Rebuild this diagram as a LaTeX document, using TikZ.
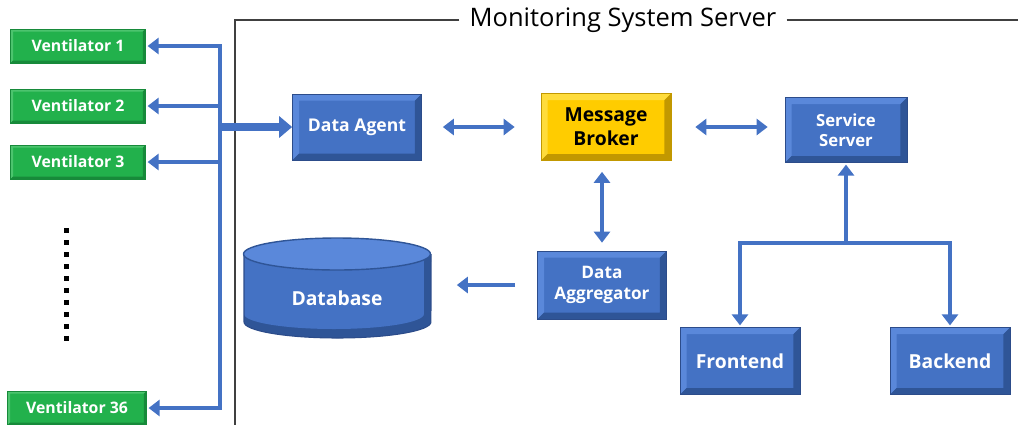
\documentclass[tikz,border=0pt]{standalone}
\usepackage{fontspec}
\setmainfont{Open Sans}
\usetikzlibrary{arrows.meta,positioning,calc}
\definecolor{boxblue}{HTML}{4472C4}
\definecolor{boxdark}{HTML}{2F5597}
\definecolor{boxlight}{HTML}{5A88DA}
\definecolor{boxedge}{HTML}{2C4C8A}
\definecolor{ventgreen}{HTML}{22B14C}
\definecolor{ventdark}{HTML}{178A3A}
\definecolor{ventlight}{HTML}{4CC46E}
\definecolor{brokeryellow}{HTML}{FFCC00}
\definecolor{brokerdark}{HTML}{C29800}
\definecolor{brokerlight}{HTML}{FFDC3C}
\definecolor{arrowblue}{HTML}{4472C4}
\tikzset{
bevel/.style n args={3}{path picture={
\path (path picture bounding box.south west) coordinate (pa)
(path picture bounding box.north east) coordinate (pb);
\fill[#1] (pa) -- ([shift={(#3,#3)}]pa) |- ([shift={(-#3,-#3)}]pb) -- (pb) -| (pa) -- cycle;
\fill[#2] (pa) -- ([shift={(#3,#3)}]pa) -| ([shift={(-#3,-#3)}]pb) -- (pb) |- (pa) -- cycle;
}},
bluebox/.style={rectangle,draw=boxedge,fill=boxblue,text=white,font=\bfseries,align=center,inner sep=0pt,
bevel={boxlight}{boxdark}{0.13cm}},
ventbox/.style={rectangle,draw=ventdark,fill=ventgreen,text=white,font=\bfseries\small,
minimum width=2.7cm,minimum height=0.68cm,inner sep=0pt,bevel={ventlight}{ventdark}{0.05cm}},
brokerbox/.style={rectangle,draw=brokerdark,fill=brokeryellow,text=black,font=\bfseries\fontsize{11}{13.5}\selectfont,align=center,inner sep=0pt,
bevel={brokerlight}{brokerdark}{0.13cm}},
link/.style={draw=arrowblue,line width=2.2pt,->},
twoway/.style={draw=arrowblue,line width=2.2pt,<->},
bus/.style={draw=arrowblue,line width=2.2pt,line cap=rect},
feed/.style={draw=arrowblue,line width=4pt,-{Triangle[length=0.26cm,width=0.42cm]}},
frame/.style={draw=black!75,line width=0.6pt},
dots/.style={line width=0.1cm,dash pattern=on 0.1cm off 0.14cm},
dblabel/.style={text=white,font=\bfseries\fontsize{11}{13}\selectfont,minimum width=3.74cm,inner sep=0pt}
}
\begin{document}
\begin{tikzpicture}[x=0.02cm,y=-0.02cm,>={Triangle[length=0.22cm,width=0.32cm]}]
\useasboundingbox (0,0) rectangle (1018,424);
% server frame
\node[font=\fontsize{14.5}{16}\selectfont,inner sep=0.2cm] (title) at (623,20) {Monitoring System Server};
\draw[frame] (title.west) -- (235,20) -- (235,430);
\draw[frame] (title.east) -- (1030,20);
% ventilators
\node[ventbox] (v1) at (78,46) {Ventilator 1};
\node[ventbox] (v2) at (78,106) {Ventilator 2};
\node[ventbox] (v3) at (78,162) {Ventilator 3};
\node[ventbox,minimum width=2.78cm] (v36) at (77,408) {Ventilator 36};
\draw[dots] (66,228) -- (66,342);
% server parts
\node[bluebox,minimum width=2.58cm,minimum height=1.32cm] (agent) at (357,127) {Data Agent};
\node[brokerbox,minimum width=2.6cm,minimum height=1.34cm] (broker) at (606,127) {Message\\Broker};
\node[bluebox,minimum width=2.44cm,minimum height=1.3cm,font=\bfseries\fontsize{9.5}{11.5}\selectfont] (service) at (846,130) {Service\\Server};
\node[bluebox,minimum width=2.58cm,minimum height=1.36cm,font=\bfseries\fontsize{9.8}{12}\selectfont] (aggr) at (602,285) {Data\\Aggregator};
\node[bluebox,minimum width=2.4cm,minimum height=1.34cm,font=\bfseries\fontsize{11}{13}\selectfont] (front) at (740,361) {Frontend};
\node[bluebox,minimum width=2.4cm,minimum height=1.34cm,font=\bfseries\fontsize{11}{13}\selectfont] (back) at (950,361) {Backend};
% database
\fill[boxdark] (244,254) -- (244,322) arc[start angle=180,end angle=360,x radius=1.87cm,y radius=0.32cm] -- (431,254) -- cycle;
\fill[boxblue] (244,254) -- (244,314) arc[start angle=180,end angle=360,x radius=1.8cm,y radius=0.3cm] -- (424,254) -- cycle;
\draw[boxedge,line width=0.6pt] (244,254) -- (244,322) arc[start angle=180,end angle=360,x radius=1.87cm,y radius=0.32cm] -- (431,254);
\filldraw[fill=boxlight,draw=boxdark,line width=0.8pt] (337,254) ellipse[x radius=1.87cm,y radius=0.32cm];
\node[dblabel] (db) at (337,298) {Database};
% connectors
\coordinate (bustop) at (220,46);
\coordinate (busend) at (220,408);
\draw[bus] (bustop) -- (busend);
\foreach \v in {v1,v2,v3,v36}
\draw[link,shorten >=1pt] (bustop |- \v.east) -- (\v.east);
\draw[feed] (bustop |- agent.west) -- (agent.west);
\draw[twoway,shorten <=0.42cm,shorten >=0.52cm] (agent.east) -- (broker.west);
\draw[twoway,shorten <=0.48cm,shorten >=0.34cm] (broker.east) -- (broker.east -| service.west);
\draw[twoway,shorten <=0.16cm,shorten >=0.22cm] (aggr.north) -- (aggr.north |- broker.south);
\draw[link,shorten <=0.44cm,shorten >=0.52cm] (aggr.west) -- (aggr.west -| db.east);
\coordinate (junc) at (846,243);
\draw[link,shorten >=1pt] (junc) -- (service.south);
\draw[link,shorten >=1pt] (junc) -| (front.north);
\draw[link,shorten >=1pt] (junc) -| (back.north);
\end{tikzpicture}
\end{document}
